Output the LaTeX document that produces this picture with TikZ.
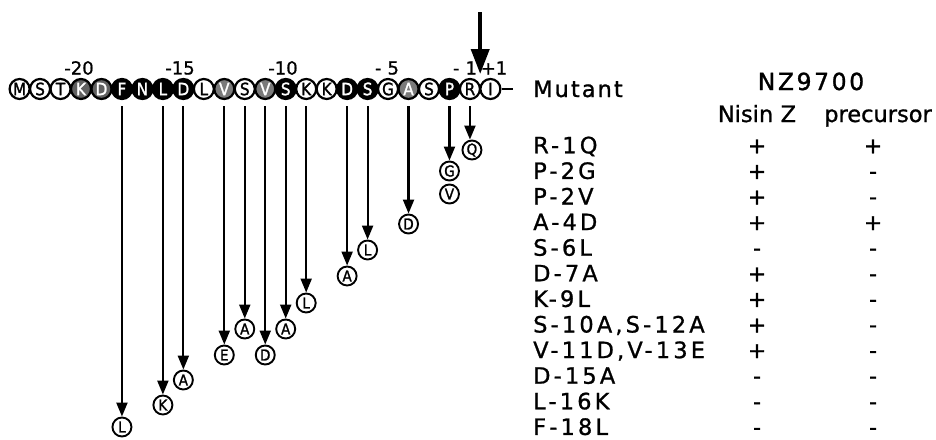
\documentclass[tikz,border=0pt]{standalone}
\usepackage{fontspec}
\setmainfont{DejaVu Sans}[RawFeature={embolden=1.0}]
\newfontfamily\rowfont{DejaVu Sans}[LetterSpace=14, RawFeature={embolden=1.0}]
\newfontfamily\headfont{DejaVu Sans}[LetterSpace=9, RawFeature={embolden=1.2}]
\newfontfamily\strainfont{DejaVu Sans}[LetterSpace=11, RawFeature={embolden=1.2}]
\newfontfamily\resfont{DejaVu Sans Condensed}[RawFeature={embolden=1.5}]
\usetikzlibrary{arrows.meta,calc}

\begin{document}
\begin{tikzpicture}[x=1pt,y=-1pt,
  res/.style={circle, draw=black, line width=2.2pt, minimum size=20pt,
    inner sep=0pt, font=\resfont\fontsize{17}{17}\selectfont},
  sub/.style={circle, draw=black, line width=1.9pt, minimum size=19pt,
    inner sep=0pt, fill=white, font=\resfont\fontsize{15}{15}\selectfont},
  mut/.style={line width=2.1pt, -{Triangle[width=11pt,length=14pt]},
    shorten <=6pt},
  cleave/.style={line width=4pt, -{Triangle[width=18pt,length=25pt]}},
  numlab/.style={font=\fontsize{18}{18}\selectfont, inner sep=0pt},
  rowlab/.style={anchor=base west, inner sep=0pt,
    font=\rowfont\fontsize{22.5}{22.5}\selectfont},
  sign/.style={anchor=base, inner sep=0pt, font=\fontsize{22}{22}\selectfont},
  head/.style={anchor=base, inner sep=0pt, font=\fontsize{22.5}{22.5}\selectfont}
]
\useasboundingbox (0,0) rectangle (936,439);

% leader peptide, residues -23 ... -1, then +1
\foreach \l/\f/\t [count=\i from 0] in {
    M/white/black, S/white/black, T/white/black, K/black!62/white,
    D/black!62/white, F/black/white, N/black/white, L/black/white,
    D/black/white, L/white/black, V/black!52/white, S/white/black,
    V/black!52/white, S/black/white, K/white/black, K/white/black,
    D/black/white, S/black/white, G/white/black, A/black!52/white,
    S/white/black, P/black/white, R/white/black, I/white/black}
  \node[res, fill=\f, text=\t] (s\i) at ({19.6+20.47*\i},89) {\l};

\coordinate (tail) at (513,89);
\draw[line width=2.2pt] (s23) -- (tail);

% position numbers
\node[numlab] (n20) at (79,68) {-20};
\node[numlab] (n15) at (180,68) {-15};
\node[numlab] (n10) at (283,68) {-10};
\node[numlab] (n5)  at (387,68) {-\,\,5};
\node[numlab] (n1)  at (465,68) {-\,\,1};
\node[numlab] (p1)  at (494,68) {+1};

% cleavage site
\coordinate (cutTop) at (480.2,12);
\coordinate (cutTip) at (480.2,74);
\draw[cleave] (cutTop) -- (cutTip);

% substituted residues
\node[sub] (tQ)   at ($(s22|-0,150)+(2,0)$) {Q};
\node[sub] (tG)   at (s21|-0,171) {G};
\node[sub] (tV)   at (s21|-0,194) {V};
\node[sub] (tD4)  at (s19|-0,224) {D};
\node[sub] (tL6)  at (s17|-0,250) {L};
\node[sub] (tA7)  at (s16|-0,276) {A};
\node[sub] (tL9)  at (s14|-0,303) {L};
\node[sub] (tA10) at (s13|-0,329) {A};
\node[sub] (tD11) at (s12|-0,355) {D};
\node[sub] (tA12) at (s11|-0,329) {A};
\node[sub] (tE13) at (s10|-0,355) {E};
\node[sub] (tA15) at (s8|-0,380) {A};
\node[sub] (tK16) at (s7|-0,405) {K};
\node[sub] (tL18) at (s5|-0,427) {L};

\draw[mut] (s22.south) -- (s22.south |- tQ.north);
\draw[mut] (s21.south) -- (s21.south |- tG.north);
\draw[mut] (s19.south) -- (s19.south |- tD4.north);
\draw[mut] (s17.south) -- (s17.south |- tL6.north);
\draw[mut] (s16.south) -- (s16.south |- tA7.north);
\draw[mut] (s14.south) -- (s14.south |- tL9.north);
\draw[mut] (s13.south) -- (s13.south |- tA10.north);
\draw[mut] (s12.south) -- (s12.south |- tD11.north);
\draw[mut] (s11.south) -- (s11.south |- tA12.north);
\draw[mut] (s10.south) -- (s10.south |- tE13.north);
\draw[mut] (s8.south) -- (s8.south |- tA15.north);
\draw[mut] (s7.south) -- (s7.south |- tK16.north);
\draw[mut] (s5.south) -- (s5.south |- tL18.north);

% table
\node[anchor=base west, inner sep=0pt, font=\headfont\fontsize{22.5}{22.5}\selectfont]
  (mutant) at (533,97) {Mutant};
\node[anchor=base, inner sep=0pt, font=\strainfont\fontsize{23.5}{23.5}\selectfont]
  (strain) at (811,90) {NZ9700};
\node[head] (nisin) at (757,122) {Nisin\,\,Z};
\node[head] (prec) at (878,122) {precursor};

\foreach \m/\a/\b [count=\k from 0] in {
    R-1Q/+/+, P-2G/+/-, P-2V/+/-, A-4D/+/+, S-6L/-/-, D-7A/+/-,
    K-9L/+/-, {S-10A,S-12A}/+/-, {V-11D,V-13E}/+/-, D-15A/-/-,
    L-16K/-/-, F-18L/-/-} {
  \node[rowlab] (m\k) at (533,{153.3+25.6*\k}) {\m};
  \node[sign] (a\k) at (757,{153.3+25.6*\k}) {\a};
  \node[sign] (b\k) at (873,{153.3+25.6*\k}) {\b};
}
\end{tikzpicture}
\end{document}
